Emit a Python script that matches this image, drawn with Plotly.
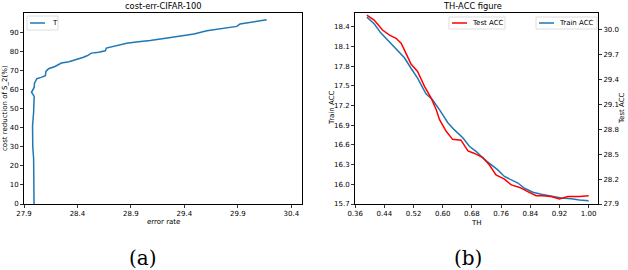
import plotly.graph_objects as go

# ---- Panel (a): cost-err-CIFAR-100 ----
err_rate = [27.994, 27.993, 27.99, 27.982, 27.98, 27.99, 27.995, 27.97, 27.99, 27.995,
            27.998, 28.007, 28.02, 28.06, 28.10, 28.105, 28.115, 28.13, 28.19, 28.25,
            28.32, 28.39, 28.45, 28.49, 28.53, 28.60, 28.66, 28.67, 28.73, 28.86,
            28.97, 29.08, 29.24, 29.38, 29.49, 29.61, 29.75, 29.89, 29.92, 30.05, 30.17]
cost_red = [0, 15, 24, 30, 41, 48, 56.3, 58.5, 60.7, 61, 63.3, 64.2, 65.6, 66.3, 67.2,
            69.4, 70.2, 70.8, 72.0, 73.8, 74.5, 75.5, 76.7, 77.6, 79.0, 79.5, 80.2,
            81.6, 82.5, 84.2, 85.0, 85.6, 86.9, 88.0, 89.0, 90.7, 91.7, 93.0, 94.2,
            95.3, 96.5]

# ---- Panel (b): TH-ACC figure ----
th = [0.392, 0.412, 0.43, 0.449, 0.476, 0.495, 0.513, 0.531, 0.554, 0.572, 0.591,
      0.614, 0.632, 0.655, 0.673, 0.692, 0.714, 0.733, 0.751, 0.769, 0.788, 0.806,
      0.824, 0.847, 0.870, 0.898, 0.925, 0.952, 0.975, 1.0]
train_acc = [18.55, 18.45, 18.31, 18.20, 18.05, 17.93, 17.77, 17.62, 17.38, 17.29,
             17.14, 16.94, 16.83, 16.71, 16.58, 16.50, 16.38, 16.30, 16.22, 16.12,
             16.07, 16.02, 15.94, 15.88, 15.85, 15.82, 15.79, 15.78, 15.76, 15.75]
th_test = [0.392, 0.412, 0.435, 0.453, 0.472, 0.486, 0.499, 0.513, 0.531, 0.550,
           0.568, 0.582, 0.591, 0.609, 0.627, 0.650, 0.669, 0.687, 0.710, 0.728,
           0.746, 0.769, 0.788, 0.811, 0.833, 0.856, 0.874, 0.897, 0.920, 0.943,
           0.975, 1.0]
test_acc = [30.18, 30.12, 30.00, 29.94, 29.90, 29.84, 29.72, 29.59, 29.50, 29.32,
            29.18, 29.04, 28.92, 28.78, 28.68, 28.67, 28.54, 28.51, 28.46, 28.37,
            28.25, 28.20, 28.13, 28.10, 28.05, 28.00, 28.00, 27.99, 27.96, 27.99,
            27.99, 28.00]

x_ticks_a = [27.9, 28.4, 28.9, 29.4, 29.9, 30.4]
y_ticks_a = [0, 10, 20, 30, 40, 50, 60, 70, 80, 90]
x_ticks_b = [0.36, 0.44, 0.52, 0.60, 0.68, 0.76, 0.84, 0.92, 1.00]
y_ticks_train = [15.7, 16.0, 16.3, 16.6, 16.9, 17.2, 17.5, 17.8, 18.1, 18.4]
y_ticks_test = [27.9, 28.2, 28.5, 28.8, 29.1, 29.4, 29.7, 30.0]

W, H = 628, 270
def px(x):
    return x / W
def py(y):
    return 1 - y / H

BLUE = "#1f77b4"
RED = "#ff0000"
FONT = "DejaVu Sans"

fig = go.Figure()
fig.add_trace(go.Scatter(x=err_rate, y=cost_red, mode="lines", name="T",
                         line=dict(color=BLUE, width=1.5), xaxis="x", yaxis="y",
                         showlegend=False))
fig.add_trace(go.Scatter(x=th_test, y=test_acc, mode="lines", name="Test ACC",
                         line=dict(color=RED, width=1.5), xaxis="x2", yaxis="y3",
                         showlegend=False))
fig.add_trace(go.Scatter(x=th, y=train_acc, mode="lines", name="Train ACC",
                         line=dict(color=BLUE, width=1.5), xaxis="x2", yaxis="y2",
                         showlegend=False))

axcommon = dict(showgrid=False, zeroline=False, showline=True, linecolor="black",
                linewidth=1, ticks="outside", ticklen=3, tickwidth=0.8,
                tickcolor="black", automargin=False,
                tickfont=dict(size=7, family=FONT, color="black"))

shapes = []
annotations = []

def legend_box(x0, x1, y0, y1, lx0, lx1, color, label, tx):
    yc = (y0 + y1) / 2
    shapes.append(dict(type="rect", xref="paper", yref="paper",
                       x0=px(x0), x1=px(x1), y0=py(y1), y1=py(y0),
                       line=dict(color="#d6d6d6", width=0.8),
                       fillcolor="rgba(255,255,255,0.8)"))
    shapes.append(dict(type="line", xref="paper", yref="paper",
                       x0=px(lx0), x1=px(lx1), y0=py(yc), y1=py(yc),
                       line=dict(color=color, width=1.5)))
    annotations.append(dict(text=label, x=px(tx), y=py(yc), xref="paper", yref="paper",
                            xanchor="left", yanchor="middle", showarrow=False,
                            font=dict(size=7, family=FONT, color="black")))

legend_box(27, 58, 16, 30, 30, 45, BLUE, "T", 50)
legend_box(449, 505, 17, 29, 452, 467, RED, "Test ACC", 470)
legend_box(536, 597, 17, 29, 539, 554, BLUE, "Train ACC", 557)

def text(t, x, y, size=7, angle=0, family=FONT):
    annotations.append(dict(text=t, x=px(x), y=py(y), xref="paper", yref="paper",
                            xanchor="center", yanchor="middle", showarrow=False,
                            textangle=angle, font=dict(size=size, family=family,
                                                       color="black")))

text("cost-err-CIFAR-100", 163, 6, size=8.3)
text("TH-ACC figure", 472, 6, size=8.3)
text("error rate", 163, 222)
text("cost reduction of S_2(%)", 5, 108, angle=-90)
text("TH", 476, 222.5)
text("Train ACC", 332, 108, angle=-90)
text("Test ACC", 622, 108, angle=-90)
text("(a)", 143, 258, size=20, family="DejaVu Serif")
text("(b)", 468, 258, size=20, family="DejaVu Serif")

fig.update_layout(
    width=W, height=H,
    margin=dict(l=0, r=0, t=0, b=0, autoexpand=False),
    paper_bgcolor="white", plot_bgcolor="white",
    font=dict(family=FONT, color="black"),
    showlegend=False,
    xaxis=dict(domain=[px(24), px(302)], range=[27.9, 30.5], tickvals=x_ticks_a,
               ticktext=[f"{v:.1f}" for v in x_ticks_a], anchor="y", mirror=True,
               **axcommon),
    yaxis=dict(domain=[py(204), py(13)], range=[0, 100], tickvals=y_ticks_a,
               anchor="x", mirror=True, **axcommon),
    xaxis2=dict(domain=[px(355), px(598)], range=[0.3595, 1.0256], tickvals=x_ticks_b,
                ticktext=[f"{v:.2f}" for v in x_ticks_b], anchor="y2", mirror=True,
                **axcommon),
    yaxis2=dict(domain=[py(204), py(13)], range=[15.7, 18.613], tickvals=y_ticks_train,
                ticktext=[f"{v:.1f}" for v in y_ticks_train], anchor="x2", side="left",
                **axcommon),
    yaxis3=dict(range=[27.9, 30.205], tickvals=y_ticks_test,
                ticktext=[f"{v:.1f}" for v in y_ticks_test], anchor="x2",
                overlaying="y2", side="right", **axcommon),
    shapes=shapes,
    annotations=annotations,
)

fig.write_html("out.html", config={"displayModeBar": False, "staticPlot": True},
               post_script="document.body.style.margin='0';document.body.style.overflow='hidden';")
